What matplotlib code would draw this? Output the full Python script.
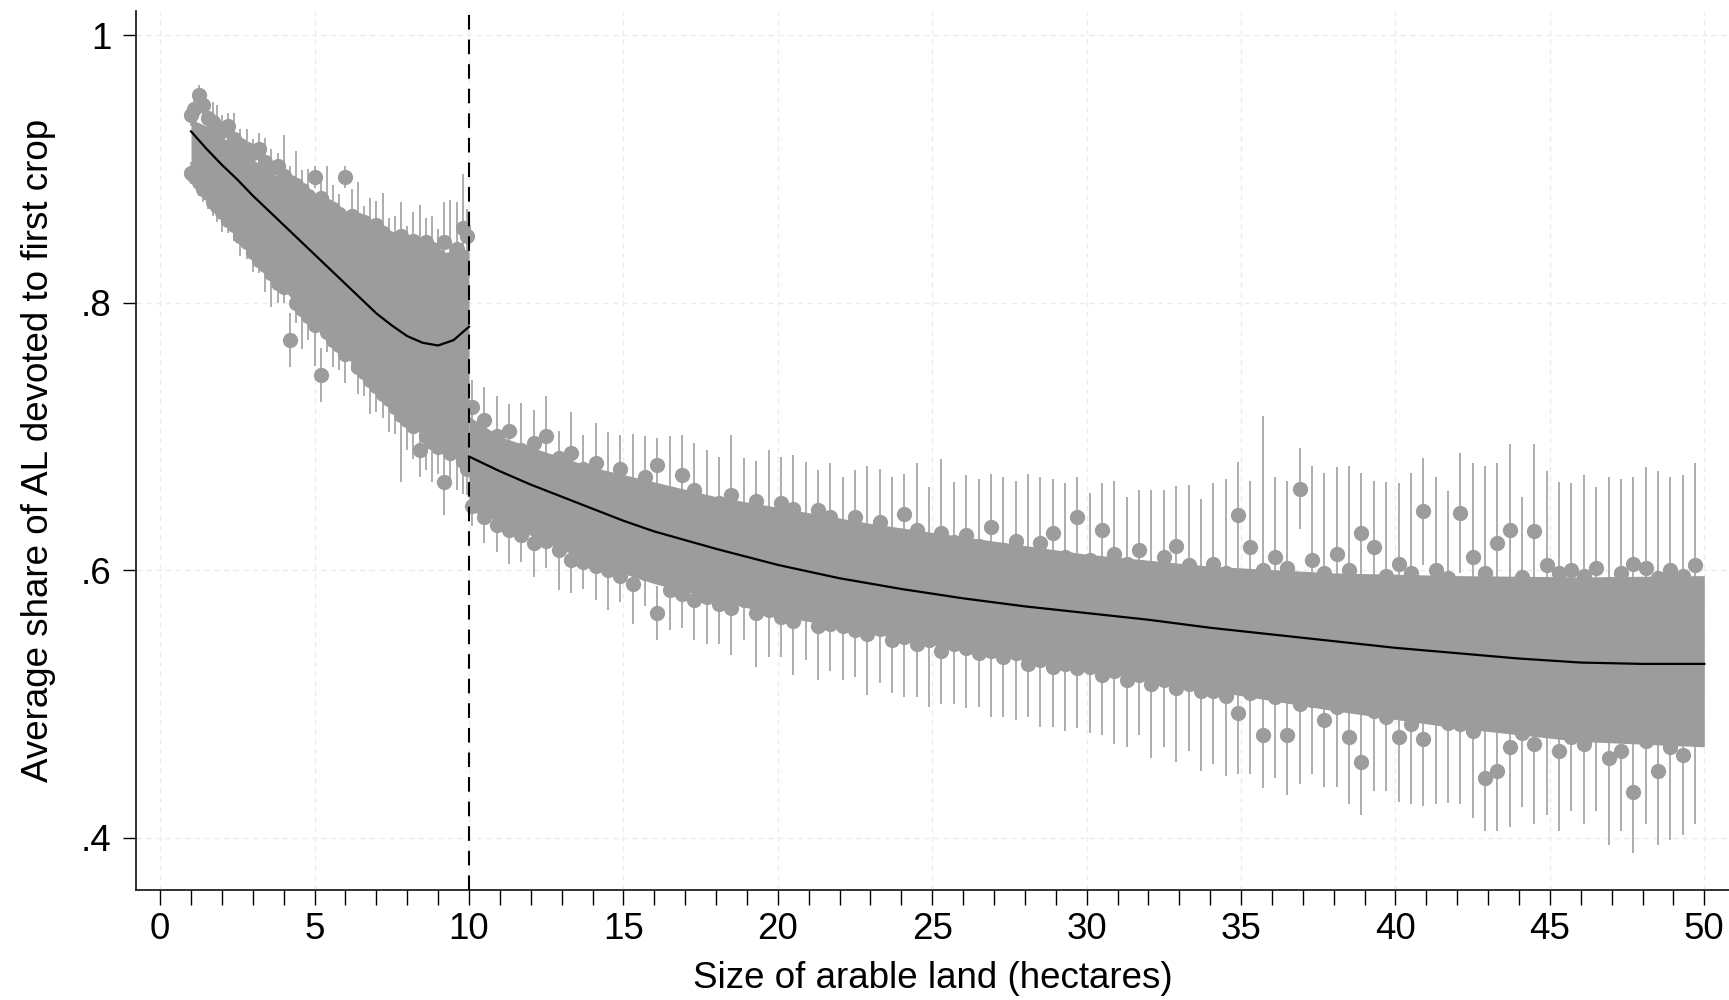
import numpy as np
import matplotlib.pyplot as plt

plt.rcParams['font.family'] = ['Liberation Sans', 'DejaVu Sans']

# ---- data ----
# bins below 10 ha: points along the top and bottom of the cloud, with CI half-widths
left_x = [1.0, 1.1, 1.25, 1.4, 1.55, 1.7, 1.85, 2.0, 2.2, 2.4, 2.6, 2.8, 3.0, 3.2, 3.4, 3.6,
          3.8, 4.0, 4.2, 4.4, 4.6, 4.8, 5.0, 5.2, 5.4, 5.6, 5.8, 6.0, 6.2, 6.4, 6.6, 6.8,
          7.0, 7.2, 7.4, 7.6, 7.8, 8.0, 8.2, 8.4, 8.6, 8.8, 9.0, 9.2, 9.4, 9.6, 9.8, 9.95]
left_hi = [.940, .945, .955, .948, .938, .935, .930, .928, .932, .922, .918, .915, .912, .915, .905, .900,
           .902, .895, .890, .888, .884, .880, .894, .878, .872, .870, .866, .894, .865, .862, .860, .856,
           .858, .852, .848, .845, .850, .842, .846, .838, .845, .840, .835, .845, .832, .840, .856, .850]
left_hi_err = [.008, .01, .008, .012, .01, .015, .018, .012, .01, .02, .012, .015, .01, .012, .018, .015,
               .01, .03, .012, .025, .015, .02, .008, .012, .03, .018, .015, .008, .02, .028, .012, .022,
               .018, .03, .015, .02, .025, .015, .022, .035, .018, .025, .02, .03, .045, .035, .04, .02]
left_lo = [.897, .895, .890, .885, .882, .875, .872, .868, .862, .858, .850, .845, .838, .832, .828, .822,
           .815, .812, .772, .800, .795, .790, .783, .746, .778, .772, .768, .762, .764, .752, .748, .742,
           .738, .732, .728, .722, .716, .712, .708, .690, .700, .696, .692, .666, .688, .690, .682, .676]
left_lo_err = [.008, .008, .01, .01, .012, .01, .012, .015, .01, .012, .015, .012, .015, .01, .02, .025,
               .015, .012, .02, .015, .03, .018, .03, .02, .015, .02, .018, .022, .015, .02, .018, .025,
               .02, .018, .025, .02, .05, .022, .025, .02, .025, .03, .02, .025, .02, .03, .025, .02]

# dense core of the cloud below 10 ha
left_core_x = [1.0, 1.5, 2.0, 3.0, 4.0, 5.0, 6.0, 7.0, 8.0, 9.0, 10.0]
left_core_hi = [.937, .932, .924, .907, .891, .876, .863, .853, .843, .837, .840]
left_core_lo = [.898, .883, .868, .838, .810, .783, .760, .736, .712, .692, .678]

# bins above 10 ha
right_x = [10.1, 10.5, 10.9, 11.3, 11.7, 12.1, 12.5, 12.9, 13.3, 13.7,
           14.1, 14.5, 14.9, 15.3, 15.7, 16.1, 16.5, 16.9, 17.3, 17.7,
           18.1, 18.5, 18.9, 19.3, 19.7, 20.1, 20.5, 20.9, 21.3, 21.7,
           22.1, 22.5, 22.9, 23.3, 23.7, 24.1, 24.5, 24.9, 25.3, 25.7,
           26.1, 26.5, 26.9, 27.3, 27.7, 28.1, 28.5, 28.9, 29.3, 29.7,
           30.1, 30.5, 30.9, 31.3, 31.7, 32.1, 32.5, 32.9, 33.3, 33.7,
           34.1, 34.5, 34.9, 35.3, 35.7, 36.1, 36.5, 36.9, 37.3, 37.7,
           38.1, 38.5, 38.9, 39.3, 39.7, 40.1, 40.5, 40.9, 41.3, 41.7,
           42.1, 42.5, 42.9, 43.3, 43.7, 44.1, 44.5, 44.9, 45.3, 45.7,
           46.1, 46.5, 46.9, 47.3, 47.7, 48.1, 48.5, 48.9, 49.3, 49.7]
right_hi = [.722, .712, .700, .704, .690, .695, .700, .684, .688, .676,
            .680, .668, .676, .662, .670, .679, .655, .671, .660, .650,
            .650, .656, .644, .652, .640, .650, .646, .636, .645, .640,
            .630, .640, .628, .636, .625, .642, .630, .622, .628, .621,
            .626, .618, .632, .615, .622, .612, .620, .628, .610, .640,
            .608, .630, .612, .605, .615, .600, .610, .618, .604, .598,
            .605, .598, .641, .617, .600, .610, .602, .661, .608, .598,
            .612, .600, .628, .617, .596, .605, .598, .644, .600, .594,
            .643, .610, .598, .620, .630, .595, .629, .604, .598, .600,
            .596, .602, .590, .598, .605, .602, .594, .600, .596, .604]
right_hi_err = [.02, .025, .03, .02, .035, .025, .03, .02, .03, .025,
                .03, .035, .025, .04, .03, .02, .045, .03, .035, .04,
                .035, .045, .04, .03, .05, .035, .04, .045, .03, .04,
                .04, .035, .05, .04, .045, .03, .05, .04, .055, .045,
                .045, .05, .04, .055, .045, .06, .05, .04, .055, .03,
                .05, .035, .055, .05, .045, .06, .05, .045, .06, .055,
                .06, .07, .04, .05, .115, .06, .065, .03, .07, .075,
                .065, .078, .045, .05, .07, .06, .075, .04, .07, .065,
                .045, .07, .08, .06, .064, .06, .065, .07, .068, .065,
                .075, .06, .08, .07, .065, .075, .08, .07, .075, .076]
right_lo = [.648, .640, .634, .630, .626, .620, .622, .615, .608, .606,
            .603, .600, .596, .590, .598, .568, .585, .582, .578, .580,
            .575, .572, .578, .568, .570, .565, .562, .568, .558, .560,
            .558, .555, .552, .556, .548, .550, .545, .548, .540, .545,
            .542, .538, .540, .535, .538, .530, .533, .528, .530, .527,
            .528, .522, .525, .518, .522, .515, .518, .512, .515, .510,
            .510, .506, .493, .508, .477, .505, .477, .500, .503, .488,
            .498, .475, .457, .495, .490, .475, .485, .474, .490, .486,
            .485, .480, .445, .450, .468, .478, .470, .482, .465, .475,
            .470, .478, .460, .465, .434, .472, .450, .468, .462, .475]
right_lo_err = [.015, .02, .02, .025, .02, .025, .02, .03, .025, .02,
                .025, .03, .02, .03, .025, .02, .03, .025, .03, .035,
                .03, .035, .03, .04, .035, .03, .04, .035, .04, .035,
                .04, .035, .045, .04, .04, .045, .04, .05, .04, .045,
                .045, .04, .05, .045, .05, .04, .05, .045, .05, .045,
                .05, .045, .055, .05, .045, .055, .05, .055, .05, .06,
                .055, .06, .045, .06, .04, .06, .045, .06, .055, .05,
                .06, .05, .04, .06, .055, .048, .06, .05, .065, .06,
                .06, .065, .04, .045, .06, .055, .06, .065, .06, .055,
                .06, .058, .065, .06, .045, .062, .055, .07, .06, .065]

right_core_x = [10, 11, 12, 14, 16, 18, 20, 23, 26, 30, 34, 38, 42, 46, 50]
right_core_hi = [.715, .700, .692, .677, .666, .655, .647, .635, .625, .612, .603, .598, .596, .595, .596]
right_core_lo = [.645, .636, .626, .605, .590, .578, .566, .553, .540, .525, .510, .495, .482, .472, .468]

# fitted polynomial on each side of the 10 ha threshold
left_fit_x = [1, 1.5, 2, 2.5, 3, 3.5, 4, 4.5, 5, 5.5, 6, 6.5, 7, 7.5, 8, 8.5, 9, 9.5, 10]
left_fit_y = [.928, .915, .903, .892, .880, .869, .858, .847, .836, .825, .814, .803, .792,
              .783, .775, .770, .768, .772, .782]
right_fit_x = [10, 11, 12, 13, 14, 15, 16, 18, 20, 22, 24, 26, 28, 30, 32, 34, 36, 38, 40,
               42, 44, 46, 48, 50]
right_fit_y = [.685, .674, .664, .655, .646, .637, .629, .616, .604, .594, .586, .579, .573,
               .568, .563, .557, .552, .547, .542, .538, .534, .531, .530, .530]

threshold = 10

# ---- plot ----
pt_col = '#9c9c9c'
ci_col = '#adadad'

fig = plt.figure(figsize=(17.29, 10), dpi=100)
ax = fig.add_axes([0.0787, 0.110, 0.9213, 0.879])

for xs, ys, es in [(left_x, left_hi, left_hi_err), (left_x, left_lo, left_lo_err),
                   (right_x, right_hi, right_hi_err), (right_x, right_lo, right_lo_err)]:
    xs, ys, es = np.array(xs), np.array(ys), np.array(es)
    ax.vlines(xs, ys - es, ys + es, colors=ci_col, lw=1.4, zorder=1)
    ax.plot(xs, ys, 'o', ms=11, color=pt_col, mec='none', zorder=3)

ax.fill_between(left_core_x, left_core_lo, left_core_hi, color=pt_col, lw=0, zorder=2)
ax.fill_between(right_core_x, right_core_lo, right_core_hi, color=pt_col, lw=0, zorder=2)

ax.plot(left_fit_x, left_fit_y, color='black', lw=1.6, zorder=4)
ax.plot(right_fit_x, right_fit_y, color='black', lw=1.6, zorder=4)
ax.axvline(threshold, color='black', lw=1.5, dashes=(7, 4.8), zorder=5)

ax.set_xlim(-0.78, 50.8)
ax.set_ylim(0.361, 1.018)

ax.set_xticks(range(0, 51, 5))
ax.set_xticks(range(0, 51), minor=True)
ax.set_yticks([.4, .6, .8, 1])
ax.set_yticklabels(['.4', '.6', '.8', '1'])
ax.tick_params(axis='x', which='both', length=10.8, width=1, pad=5, labelsize=26.5)
ax.tick_params(axis='y', length=9.6, width=1, pad=8, labelsize=26.5)

ax.grid(True, which='major', color='#ececec', lw=1, linestyle=(0, (4, 3)), zorder=0)
ax.set_axisbelow(True)

for s in ['top', 'right']:
    ax.spines[s].set_visible(False)
for s in ['left', 'bottom']:
    ax.spines[s].set_linewidth(1.3)
    ax.spines[s].set_color('#222222')

ax.set_xlabel('Size of arable land (hectares)', fontsize=26.5, labelpad=10)
ax.set_ylabel('Average share of AL devoted to first crop', fontsize=26.5, labelpad=18)

fig.savefig('out.png', dpi=100)
